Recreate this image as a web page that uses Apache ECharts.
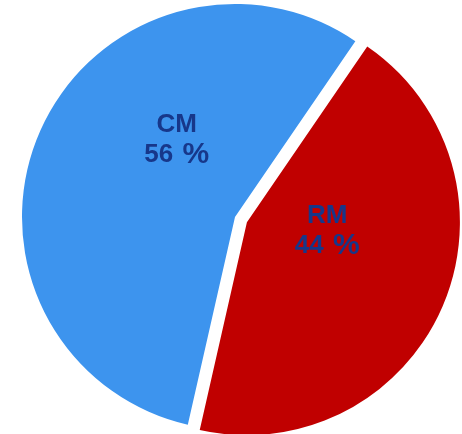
<!DOCTYPE html>
<html>
<head>
<meta charset="utf-8">
<script src="https://cdn.jsdelivr.net/npm/echarts@6/dist/echarts.min.js"></script>
<style>
  html, body { margin: 0; padding: 0; background: #fff; }
  #chart { width: 462px; height: 434px; }
</style>
</head>
<body>
<div id="chart"></div>
<script>
// 数据
var names = ['RM', 'CM'];
var values = [44, 56];
var colors = ['#c00000', '#3d94ee'];
var labelOffsets = [[-20, -35], [42, -33]];

var myChart = echarts.init(document.getElementById('chart'));

var data = names.map(function (n, i) {
  return {
    name: n,
    value: values[i],
    selected: i === 0,
    itemStyle: { color: colors[i] },
    label: { offset: labelOffsets[i] },
    select: { label: { offset: labelOffsets[i] } }
  };
});

var txtColor = '#17378a';

myChart.setOption({
  animation: false,
  series: [{
    type: 'pie',
    center: [235, 217],
    radius: 213,
    startAngle: 55.6,
    clockwise: true,
    selectedMode: 'single',
    selectedOffset: 13,
    emphasis: { disabled: true },
    label: {
      show: true,
      position: 'inside',
      formatter: function (p) { return '{n|' + p.name + '}\n{n|' + p.value + '} {p|%}'; },
      rich: {
        n: {
          color: txtColor,
          fontFamily: 'Liberation Sans, Arial, sans-serif',
          fontWeight: 'bold',
          fontSize: 26,
          lineHeight: 30
        },
        p: {
          color: txtColor,
          fontFamily: 'Liberation Sans, Arial, sans-serif',
          fontWeight: 'bold',
          fontSize: 30,
          lineHeight: 30,
          padding: [0, 0, 0, 6]
        }
      }
    },
    labelLine: { show: false },
    data: data
  }]
});
</script>
</body>
</html>
